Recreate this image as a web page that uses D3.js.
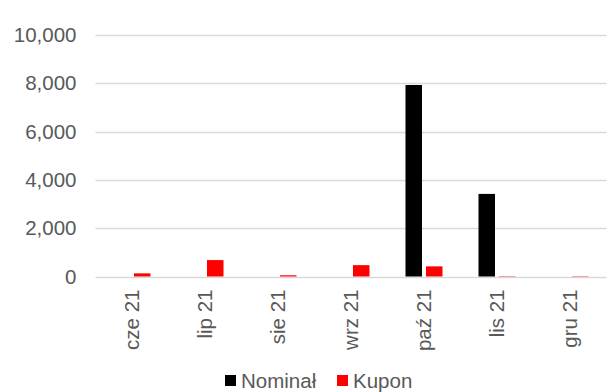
<!DOCTYPE html>
<html>
<head>
<meta charset="utf-8">
<script src="https://cdn.jsdelivr.net/npm/d3@7"></script>
<style>
  html, body { margin: 0; padding: 0; background: #fff; }
  svg { display: block; font-family: "Liberation Sans", Arial, sans-serif; }
</style>
</head>
<body>
<svg id="chart" width="610" height="392"></svg>
<script>
// Monthly values: nominal and coupon
const months = ["cze 21", "lip 21", "sie 21", "wrz 21", "paź 21", "lis 21", "gru 21"];
const nominal = [0, 0, 0, 0, 7930, 3420, 0];
const coupon = [130, 680, 50, 470, 420, 15, 15];
const yTicks = [0, 2000, 4000, 6000, 8000, 10000];
const seriesNames = ["Nominał", "Kupon"];
const seriesColors = ["#000000", "#ff0000"];

const svg = d3.select("#chart");
const margin = { left: 95.5, right: 3.5, top: 35, bottom: 115.5 };
const W = 610, H = 392;

const x = d3.scaleBand().domain(months).range([margin.left, W - margin.right]).padding(0);
const y = d3.scaleLinear().domain([0, 10000]).range([H - margin.bottom, margin.top]);

const barW = 16.5, innerGap = 4;
const offsets = [-(innerGap / 2 + barW), innerGap / 2];

// gridlines
svg.append("g")
  .selectAll("line")
  .data(yTicks)
  .join("line")
  .attr("x1", margin.left)
  .attr("x2", W - margin.right)
  .attr("y1", d => Math.round(y(d)) + 0.5)
  .attr("y2", d => Math.round(y(d)) + 0.5)
  .attr("stroke", "#d9d9d9")
  .attr("stroke-width", 1.3);

// y axis labels
const fmt = d3.format(",");
const yAxis = svg.append("g")
  .attr("transform", `translate(${margin.left - 19},0)`)
  .call(d3.axisLeft(y).tickValues(yTicks).tickFormat(fmt).tickSize(0).tickPadding(0));
yAxis.select(".domain").remove();
yAxis.selectAll("text")
  .attr("font-size", 20.5)
  .attr("fill", "#595959")
  .attr("font-family", "Liberation Sans, Arial, sans-serif");

// bars
const series = [nominal, coupon];
series.forEach((vals, si) => {
  svg.append("g")
    .selectAll("rect")
    .data(vals.map((v, i) => ({ v, m: months[i] })))
    .join("rect")
    .attr("x", d => x(d.m) + x.bandwidth() / 2 + offsets[si])
    .attr("width", barW)
    .attr("y", d => y(d.v))
    .attr("height", d => y(0) - y(d.v))
    .attr("fill", seriesColors[si]);
});

// x axis labels (rotated)
const xAxis = svg.append("g")
  .attr("transform", `translate(0,${y(0) + 13})`)
  .call(d3.axisBottom(x).tickSize(0).tickPadding(0));
xAxis.select(".domain").remove();
xAxis.selectAll("text")
  .attr("font-size", 20.5)
  .attr("fill", "#595959")
  .attr("font-family", "Liberation Sans, Arial, sans-serif")
  .attr("text-anchor", "end")
  .attr("transform", "rotate(-90)")
  .attr("x", 0)
  .attr("y", 0)
  .attr("dy", "0.35em");

// legend
const legend = svg.append("g").attr("transform", "translate(225,375)");
const legendX = [0, 112];
seriesNames.forEach((name, i) => {
  const g = legend.append("g").attr("transform", `translate(${legendX[i]},0)`);
  g.append("rect").attr("width", 11).attr("height", 11).attr("fill", seriesColors[i]);
  g.append("text")
    .attr("x", 16)
    .attr("y", 12.5)
    .attr("font-size", 20.5)
    .attr("fill", "#595959")
    .text(name);
});
</script>
</body>
</html>
